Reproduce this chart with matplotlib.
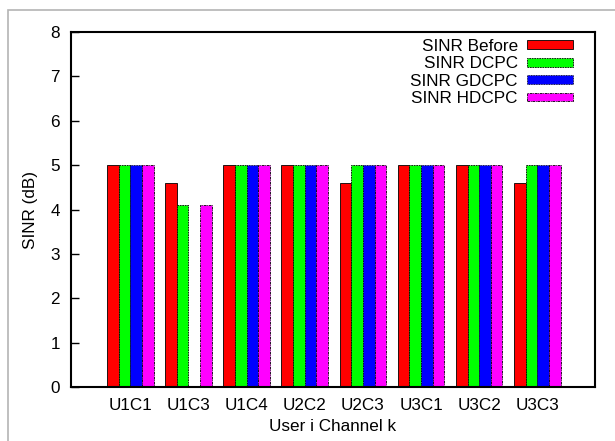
import numpy as np
import matplotlib
matplotlib.use("Agg")
import matplotlib.pyplot as plt
from matplotlib.patches import Rectangle

# データ
categories = ["U1C1", "U1C3", "U1C4", "U2C2", "U2C3", "U3C1", "U3C2", "U3C3"]
sinr_before = [5.0, 4.6, 5.0, 5.0, 4.6, 5.0, 5.0, 4.6]
sinr_dcpc = [5.0, 4.1, 5.0, 5.0, 5.0, 5.0, 5.0, 5.0]
sinr_gdcpc = [5.0, 0.0, 5.0, 5.0, 5.0, 5.0, 5.0, 5.0]
sinr_hdcpc = [5.0, 4.1, 5.0, 5.0, 5.0, 5.0, 5.0, 5.0]

series = [
    ("SINR Before", sinr_before, "#ff0000", "solid"),
    ("SINR DCPC", sinr_dcpc, "#00ff00", (0, (2, 1))),
    ("SINR GDCPC", sinr_gdcpc, "#0000ff", (0, (1, 1))),
    ("SINR HDCPC", sinr_hdcpc, "#ff00ff", (0, (3, 1, 1, 1))),
]

fs = 12.3
plt.rcParams["font.family"] = ["Liberation Sans", "DejaVu Sans"]

fig = plt.figure(figsize=(6.15, 4.41), dpi=100)
ax = fig.add_axes([0.1154, 0.1224, 0.852, 0.805])

# 外枠（薄いグレー）
fig.patches.append(Rectangle((8 / 615, -0.5), 2.0, 1.5 - 10 / 441,
                             transform=fig.transFigure, fill=False,
                             edgecolor="#b4b4b4", linewidth=1.2))

x = np.arange(len(categories))
width = 0.2
for i, (label, vals, color, ls) in enumerate(series):
    ax.bar(x + (i - 1.5) * width, vals, width, color=color,
           edgecolor="black", linewidth=0.6, linestyle=ls, label=label)

ax.set_xlim(-1.02, 7.99)
ax.set_ylim(0, 8)
ax.set_xticks(x)
ax.set_xticklabels(categories)
ax.set_yticks(range(0, 9))
ax.tick_params(axis="x", length=0, pad=8, labelsize=fs)
ax.tick_params(axis="y", direction="in", length=6, width=1, pad=8, labelsize=fs)
for sp in ax.spines.values():
    sp.set_linewidth(1.5)

ax.set_xlabel("User i Channel k", fontsize=fs, labelpad=4)
ax.set_ylabel("SINR (dB)", fontsize=fs, labelpad=9)

ax.legend(loc="upper right", bbox_to_anchor=(0.972, 1.0), borderaxespad=0,
          frameon=False, markerfirst=False, fontsize=fs,
          handlelength=2.7, handleheight=0.42, labelspacing=0.14,
          handletextpad=0.55)

plt.savefig("out.png", dpi=100)
